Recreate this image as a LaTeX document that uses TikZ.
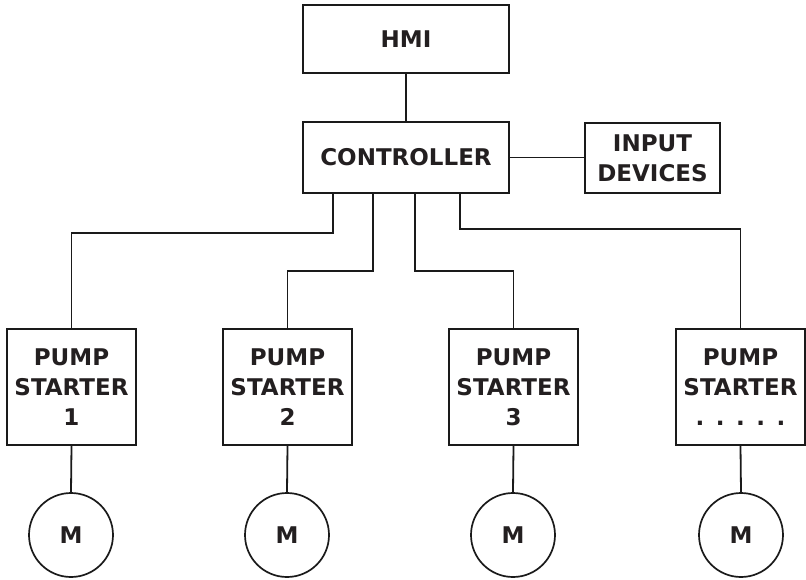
\documentclass[tikz,border=0pt]{standalone}
\usepackage{fontspec}
\setmainfont{DejaVu Sans}
\begin{document}
\begin{tikzpicture}[x=1pt,y=-1pt,
  every node/.style={font=\fontsize{23}{30}\selectfont\bfseries, text=txt, align=center, inner sep=0pt},
  blk/.style={draw=ln, line width=2pt, minimum width=#1, fill=white},
  mot/.style={draw=ln, line width=1.7pt, circle, minimum size=84pt},
  wire/.style={draw=ln, line width=1.8pt}]
\definecolor{txt}{HTML}{231F20}
\definecolor{ln}{HTML}{1A1A1A}
\useasboundingbox (0,0) rectangle (806,579);
\node[blk=206pt, minimum height=68pt] (hmi) at (406,39) {HMI};
\node[blk=206pt, minimum height=71pt] (ctrl) at (406,157.5) {CONTROLLER};
\node[blk=135pt, minimum height=70pt] (inp) at (652.5,158) {INPUT\\DEVICES};
\node[blk=129pt, minimum height=116pt] (p1) at (71.5,387) {PUMP\\STARTER\\1};
\node[blk=129pt, minimum height=116pt] (p2) at (287.5,387) {PUMP\\STARTER\\2};
\node[blk=129pt, minimum height=116pt] (p3) at (513.5,387) {PUMP\\STARTER\\3};
\node[blk=129pt, minimum height=116pt] (p4) at (740.5,387) {PUMP\\STARTER\\.\hspace{11.5pt}.\hspace{11.5pt}.\hspace{11.5pt}.\hspace{11.5pt}.};
\node[mot] (m1) at (71,535) {M};
\node[mot] (m2) at (287,535) {M};
\node[mot] (m3) at (513,535) {M};
\node[mot] (m4) at (741,535) {M};
\draw[wire] (hmi) -- (ctrl);
\draw[wire] (ctrl.east) -- (ctrl.east -| inp.west);
\draw[wire] ([xshift=-73pt]ctrl.south) -- ++(0,39) -| (p1.north);
\draw[wire] ([xshift=-33pt]ctrl.south) -- ++(0,77) -| (p2.north);
\draw[wire] ([xshift=9pt]ctrl.south) -- ++(0,77) -| (p3.north);
\draw[wire] ([xshift=54pt]ctrl.south) -- ++(0,35) -| (p4.north);
\foreach \i in {1,2,3,4} \draw[wire] (p\i.south) -- (m\i.north);
\end{tikzpicture}
\end{document}
